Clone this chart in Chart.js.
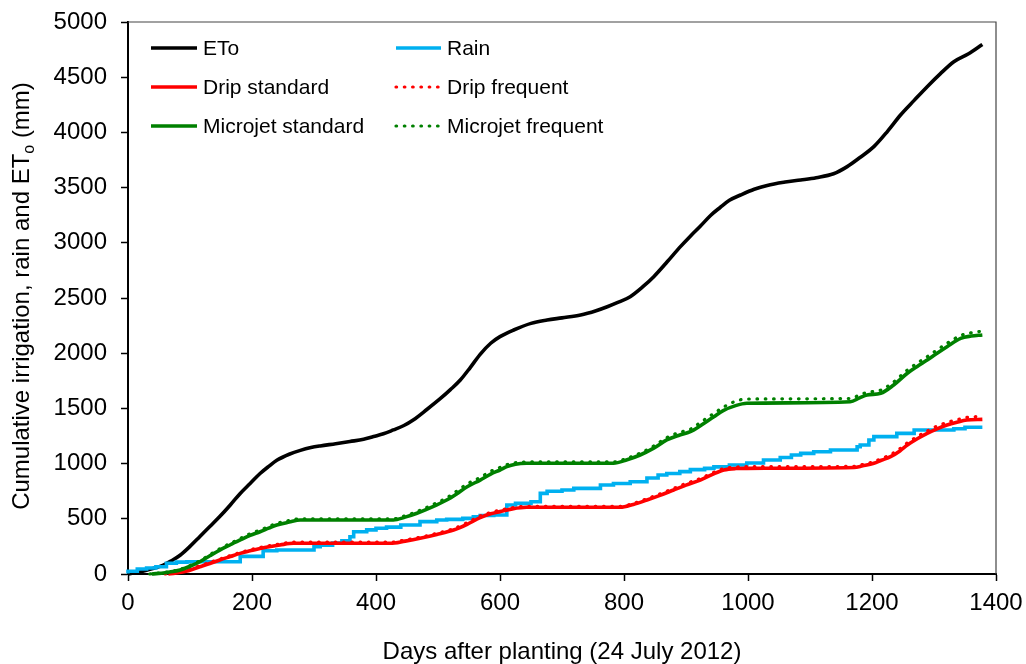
<!DOCTYPE html>
<html>
<head>
<meta charset="utf-8">
<script src="https://cdn.jsdelivr.net/npm/chart.js@4.4.1/dist/chart.umd.min.js"></script>
<style>
  body { margin: 0; background: #fff; }
  #wrap { width: 1026px; height: 664px; }
</style>
</head>
<body>
<div id="wrap"><canvas id="chart" width="1026" height="664"></canvas></div>
<script>
// values (days after planting, mm)
const xTicks = [0, 200, 400, 600, 800, 1000, 1200, 1400];
const yTicks = [0, 500, 1000, 1500, 2000, 2500, 3000, 3500, 4000, 4500, 5000];

const seriesNames = ['ETo', 'Rain', 'Drip standard', 'Drip frequent', 'Microjet standard', 'Microjet frequent'];

const etoDays = [0, 20, 40, 57, 70, 84, 100, 116, 132, 148, 165, 181, 197, 213, 227, 240, 260, 278, 295, 310, 335, 358, 380, 396, 412, 428, 445, 460, 482, 504, 520, 536, 552, 568, 585, 600, 622, 650, 676, 700, 730, 755, 773, 790, 810, 830, 848, 870, 891, 907, 923, 940, 955, 970, 988, 1010, 1031, 1060, 1085, 1110, 1138, 1160, 1180, 1203, 1225, 1246, 1268, 1289, 1310, 1332, 1355, 1378];
const etoValues = [0, 20, 50, 80, 120, 170, 250, 340, 430, 520, 625, 730, 820, 910, 975, 1030, 1085, 1120, 1145, 1160, 1180, 1200, 1220, 1245, 1270, 1305, 1345, 1395, 1490, 1590, 1670, 1757, 1870, 1990, 2090, 2150, 2210, 2270, 2300, 2320, 2346, 2385, 2421, 2460, 2512, 2600, 2693, 2830, 2965, 3060, 3150, 3250, 3320, 3385, 3433, 3485, 3520, 3550, 3569, 3590, 3625, 3690, 3770, 3871, 4010, 4158, 4290, 4414, 4530, 4640, 4710, 4797];

const rainDays = [0, 15, 30, 45, 62, 78, 95, 181, 218, 240, 300, 310, 330, 345, 358, 364, 385, 400, 417, 440, 471, 498, 514, 540, 557, 568, 590, 611, 625, 650, 665, 676, 700, 719, 762, 783, 810, 837, 855, 869, 890, 907, 930, 945, 970, 998, 1025, 1052, 1070, 1085, 1106, 1133, 1176, 1181, 1195, 1203, 1240, 1268, 1294, 1332, 1350, 1378];
const rainValues = [5, 25, 45, 55, 66, 97, 108, 111, 160, 211, 217, 248, 260, 280, 300, 338, 383, 400, 414, 425, 444, 474, 489, 495, 504, 519, 530, 534, 625, 640, 655, 730, 750, 761, 776, 806, 820, 836, 870, 897, 910, 927, 945, 957, 970, 987, 1005, 1033, 1055, 1078, 1093, 1108, 1123, 1153, 1168, 1214, 1244, 1274, 1304, 1304, 1315, 1329];

const dripStdDays = [65, 90, 116, 132, 148, 165, 181, 197, 213, 230, 245, 267, 423, 447, 471, 498, 525, 547, 568, 585, 600, 620, 643, 794, 815, 837, 858, 880, 900, 923, 942, 961, 980, 998, 1171, 1185, 1203, 1215, 1230, 1245, 1257, 1273, 1289, 1305, 1321, 1337, 1353, 1378];
const dripStdValues = [0, 20, 66, 95, 127, 158, 187, 210, 232, 250, 263, 278, 278, 298, 323, 358, 398, 450, 510, 545, 565, 590, 604, 604, 630, 670, 712, 761, 805, 851, 900, 942, 955, 957, 965, 980, 1003, 1030, 1063, 1115, 1168, 1225, 1274, 1315, 1350, 1375, 1395, 1401];

const dripFreqDays = [60, 90, 116, 148, 181, 213, 245, 265, 423, 447, 471, 498, 525, 547, 568, 585, 600, 620, 640, 794, 815, 837, 858, 880, 900, 923, 942, 961, 980, 998, 1171, 1185, 1203, 1215, 1230, 1245, 1257, 1273, 1289, 1305, 1321, 1337, 1353, 1378];
const dripFreqValues = [0, 25, 75, 135, 195, 240, 272, 288, 288, 308, 333, 368, 410, 465, 525, 558, 578, 600, 612, 612, 640, 682, 725, 775, 820, 865, 915, 955, 968, 972, 975, 992, 1018, 1045, 1082, 1135, 1188, 1245, 1295, 1340, 1372, 1398, 1418, 1428];

const microStdDays = [38, 60, 84, 100, 116, 132, 148, 165, 181, 197, 213, 227, 240, 260, 278, 428, 447, 466, 490, 514, 530, 547, 568, 585, 600, 611, 625, 643, 783, 805, 826, 848, 869, 888, 907, 925, 945, 960, 980, 998, 1165, 1180, 1192, 1214, 1235, 1257, 1273, 1289, 1305, 1321, 1343, 1360, 1378];
const microStdValues = [0, 12, 36, 70, 111, 165, 217, 265, 308, 350, 383, 415, 444, 470, 489, 489, 515, 550, 605, 670, 725, 790, 851, 905, 942, 972, 995, 1003, 1003, 1035, 1078, 1140, 1214, 1255, 1289, 1350, 1425, 1480, 1525, 1546, 1560, 1595, 1621, 1637, 1712, 1818, 1880, 1938, 2000, 2059, 2135, 2155, 2165];

const microFreqDays = [35, 60, 84, 100, 116, 132, 148, 165, 181, 197, 213, 227, 240, 260, 278, 428, 447, 466, 490, 514, 530, 547, 568, 585, 600, 611, 625, 643, 783, 805, 826, 848, 869, 888, 907, 925, 945, 960, 980, 998, 1165, 1180, 1192, 1214, 1235, 1257, 1273, 1289, 1305, 1321, 1343, 1360, 1378];
const microFreqValues = [0, 15, 42, 78, 120, 175, 228, 278, 322, 365, 398, 430, 458, 485, 500, 500, 528, 565, 625, 690, 750, 815, 875, 930, 965, 990, 1008, 1015, 1015, 1048, 1095, 1160, 1235, 1280, 1312, 1380, 1455, 1510, 1565, 1585, 1590, 1622, 1645, 1665, 1740, 1848, 1910, 1968, 2030, 2090, 2160, 2185, 2200];

const FONT = 'Arial, "Liberation Sans", sans-serif';

function points(days, values) {
  return days.map((d, i) => ({ x: d, y: values[i] }));
}

const solid = (color) => ({ borderColor: color, borderWidth: 3.6, borderDash: [] });
const dotted = (color) => ({ borderColor: color, borderWidth: 3.2, borderDash: [0.6, 7.7], borderCapStyle: 'round' });

const datasets = [
  { label: seriesNames[0], data: points(etoDays, etoValues), ...solid('#000000'), order: 6 },
  { label: seriesNames[1], data: points(rainDays, rainValues), ...solid('#00b0f0'), stepped: 'after', order: 5 },
  { label: seriesNames[2], data: points(dripStdDays, dripStdValues), ...solid('#ff0000'), order: 4 },
  { label: seriesNames[3], data: points(dripFreqDays, dripFreqValues), ...dotted('#ff0000'), order: 3 },
  { label: seriesNames[4], data: points(microStdDays, microStdValues), ...solid('#008000'), order: 2 },
  { label: seriesNames[5], data: points(microFreqDays, microFreqValues), ...dotted('#008000'), order: 1 },
];
datasets.forEach(ds => {
  ds.pointRadius = 0;
  ds.fill = false;
  ds.clip = 6;
  if (!ds.stepped) ds.cubicInterpolationMode = 'monotone';
});

// legend, axis titles and the thin top/right frame
const extras = {
  id: 'extras',
  beforeDatasetsDraw(chart) {
    const { ctx, chartArea: a } = chart;
    ctx.save();
    ctx.strokeStyle = '#444';
    ctx.lineWidth = 1.2;
    ctx.beginPath();
    ctx.moveTo(a.left, a.top);
    ctx.lineTo(a.right, a.top);
    ctx.lineTo(a.right, a.bottom);
    ctx.stroke();
    ctx.restore();
  },
  afterDraw(chart) {
    const { ctx, chartArea: a } = chart;
    ctx.save();
    ctx.fillStyle = '#000';

    // legend
    const cols = [{ x1: 151, x2: 197, tx: 203 }, { x1: 396, x2: 441, tx: 447 }];
    const rows = [48, 87, 126];
    ctx.font = '21px ' + FONT;
    ctx.textBaseline = 'middle';
    ctx.textAlign = 'left';
    chart.data.datasets.forEach((ds, k) => {
      const c = cols[k % 2];
      const y = rows[Math.floor(k / 2)];
      ctx.save();
      ctx.strokeStyle = ds.borderColor;
      ctx.lineWidth = ds.borderWidth;
      ctx.setLineDash(ds.borderDash || []);
      ctx.lineCap = ds.borderCapStyle || 'butt';
      ctx.beginPath();
      ctx.moveTo(c.x1, y);
      ctx.lineTo(c.x2, y);
      ctx.stroke();
      ctx.restore();
      ctx.fillText(ds.label, c.tx, y + 1);
    });

    // x title
    ctx.font = '24px ' + FONT;
    ctx.textAlign = 'center';
    ctx.textBaseline = 'middle';
    ctx.fillText('Days after planting (24 July 2012)', (a.left + a.right) / 2, 652);

    // y title with subscript o
    const p1 = 'Cumulative irrigation, rain and ET';
    const sub = 'o';
    const p2 = ' (mm)';
    const big = '24px ' + FONT, small = '16px ' + FONT;
    ctx.font = big;
    const w1 = ctx.measureText(p1).width, w3 = ctx.measureText(p2).width;
    ctx.font = small;
    const w2 = ctx.measureText(sub).width;
    const total = w1 + w2 + w3;
    ctx.translate(21, 296);
    ctx.rotate(-Math.PI / 2);
    ctx.textAlign = 'left';
    ctx.textBaseline = 'alphabetic';
    let x = -total / 2;
    ctx.font = big;
    ctx.fillText(p1, x, 8);
    x += w1;
    ctx.font = small;
    ctx.fillText(sub, x, 13);
    x += w2;
    ctx.font = big;
    ctx.fillText(p2, x, 8);
    ctx.restore();
  }
};

new Chart(document.getElementById('chart'), {
  type: 'line',
  data: { datasets },
  options: {
    responsive: false,
    animation: false,
    events: [],
    layout: { padding: { left: 0, right: 30, top: 22, bottom: 0 } },
    plugins: { legend: { display: false }, tooltip: { enabled: false } },
    scales: {
      x: {
        type: 'linear',
        min: 0,
        max: 1400,
        afterBuildTicks: (s) => { s.ticks = xTicks.map(v => ({ value: v })); },
        afterFit: (s) => { s.height = 90; s.paddingLeft = 0; s.paddingRight = 0; },
        ticks: { color: '#000', font: { family: FONT, size: 24 }, padding: 8, maxRotation: 0, callback: v => String(v) },
        grid: { drawOnChartArea: false, drawTicks: true, tickLength: 7, color: '#000', tickWidth: 1.5 },
        border: { display: true, color: '#000', width: 2 }
      },
      y: {
        type: 'linear',
        min: 0,
        max: 5000,
        afterBuildTicks: (s) => { s.ticks = yTicks.map(v => ({ value: v })); },
        afterFit: (s) => { s.width = 128; s.paddingTop = 0; s.paddingBottom = 0; },
        ticks: { color: '#000', font: { family: FONT, size: 24 }, padding: 14, callback: v => String(v) },
        grid: { drawOnChartArea: false, drawTicks: true, tickLength: 7, color: '#000', tickWidth: 1.5 },
        border: { display: true, color: '#000', width: 2 }
      }
    }
  },
  plugins: [extras]
});
</script>
</body>
</html>
